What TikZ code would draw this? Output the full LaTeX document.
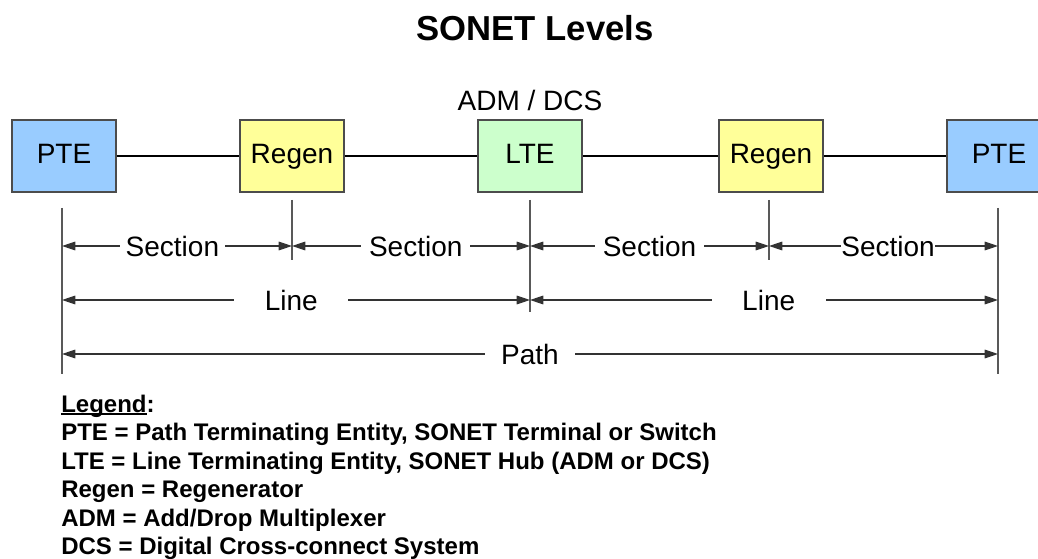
\documentclass[tikz,border=0pt]{standalone}
\usepackage{fontspec}
\setmainfont{Liberation Sans}
\usetikzlibrary{arrows.meta}
\definecolor{pteblue}{HTML}{99CCFF}
\definecolor{regenyellow}{HTML}{FFFF99}
\definecolor{ltegreen}{HTML}{CCFFCC}
\newcommand\legul[1]{\setbox0\hbox{#1}\rlap{\rule[-2.2pt]{\wd0}{1.1pt}}#1}
\tikzset{
  box/.style={draw=black!70, line width=1.1pt, minimum width=78pt, minimum height=54pt,
    text height=15pt, text depth=4pt, font=\fontsize{21}{24}\selectfont},
  link/.style={line width=1.4pt},
  tick/.style={draw=black!65, line width=0.9pt},
  dim/.style={{Triangle[length=10pt,width=6.5pt]}-{Triangle[length=10pt,width=6.5pt]}, line width=0.8pt, draw=black!80},
  lab/.style={fill=white, inner ysep=0pt, font=\fontsize{21}{24}\selectfont},
  legline/.style={anchor=base west, inner sep=0pt, font=\bfseries\fontsize{18}{21}\selectfont}
}
\begin{document}
\begin{tikzpicture}[x=0.75pt,y=-0.75pt]
      \useasboundingbox (0,0) rectangle (1038,559);
      \clip (0,0) rectangle (1038,559);
      \node[font=\bfseries\fontsize{26}{30}\selectfont] (title) at (535,28) {SONET Levels};
      % network elements
      \node[box, fill=pteblue] (pteL) at (64,156) {PTE};
      \node[box, fill=regenyellow] (regenL) at (292,156) {Regen};
      \node[box, fill=ltegreen] (lte) at (530,156) {LTE};
      \node[box, fill=regenyellow] (regenR) at (771,156) {Regen};
      \node[box, fill=pteblue] (pteR) at (999,156) {PTE};
      \node[font=\fontsize{21}{24}\selectfont, above=3pt] (adm) at (lte.north) {ADM / DCS};
      \begin{scope}[link]
        \draw (pteL) to (regenL);
        \draw (regenL) to (lte);
        \draw (lte) to (regenR);
        \draw (regenR) to (pteR);
      \end{scope}
      % tick marks
      \coordinate (t1a) at (62,208);  \coordinate (t1b) at (62,374);
      \coordinate (t2a) at (292,200); \coordinate (t2b) at (292,260);
      \coordinate (t3a) at (530,200); \coordinate (t3b) at (530,312);
      \coordinate (t4a) at (769,200); \coordinate (t4b) at (769,260);
      \coordinate (t5a) at (998,208); \coordinate (t5b) at (998,374);
      \foreach \i in {1,...,5}
        \draw[tick] (t\i a) -- (t\i b);
      \foreach \x [count=\i] in {62,292,530,769,998} {
        \coordinate (s\i) at (\x,246);
        \coordinate (l\i) at (\x,300);
        \coordinate (p\i) at (\x,354);
      }
      % spans
      \draw[dim] (s1) -- node[lab, pos=0.48, inner xsep=4.5pt] (sec1) {Section} (s2);
      \draw[dim] (s2) -- node[lab, pos=0.52, inner xsep=6pt] (sec2) {Section} (s3);
      \draw[dim] (s3) -- node[lab, pos=0.5, inner xsep=6pt] (sec3) {Section} (s4);
      \draw[dim] (s4) -- node[lab, pos=0.52, inner xsep=0.5pt] (sec4) {Section} (s5);
      \draw[dim] (l1) -- node[lab, pos=0.49, inner xsep=23pt] (line1) {Line} (l3);
      \draw[dim] (l3) -- node[lab, pos=0.51, inner xsep=23pt] (line2) {Line} (l5);
      \draw[dim] (p1) -- node[lab, pos=0.5, inner xsep=12pt] (path) {Path} (p5);
      % legend
      \foreach \txt [count=\i from 0] in {{\legul{Legend}:},
          {PTE = Path Terminating Entity, SONET Terminal or Switch},
          {LTE = Line Terminating Entity, SONET Hub (ADM or DCS)},
          {Regen = Regenerator},
          {ADM = Add/Drop Multiplexer},
          {DCS = Digital Cross-connect System}}
        \node[legline] (leg\i) at (61,412+28.5*\i) {\txt};
    \end{tikzpicture}
\end{document}
